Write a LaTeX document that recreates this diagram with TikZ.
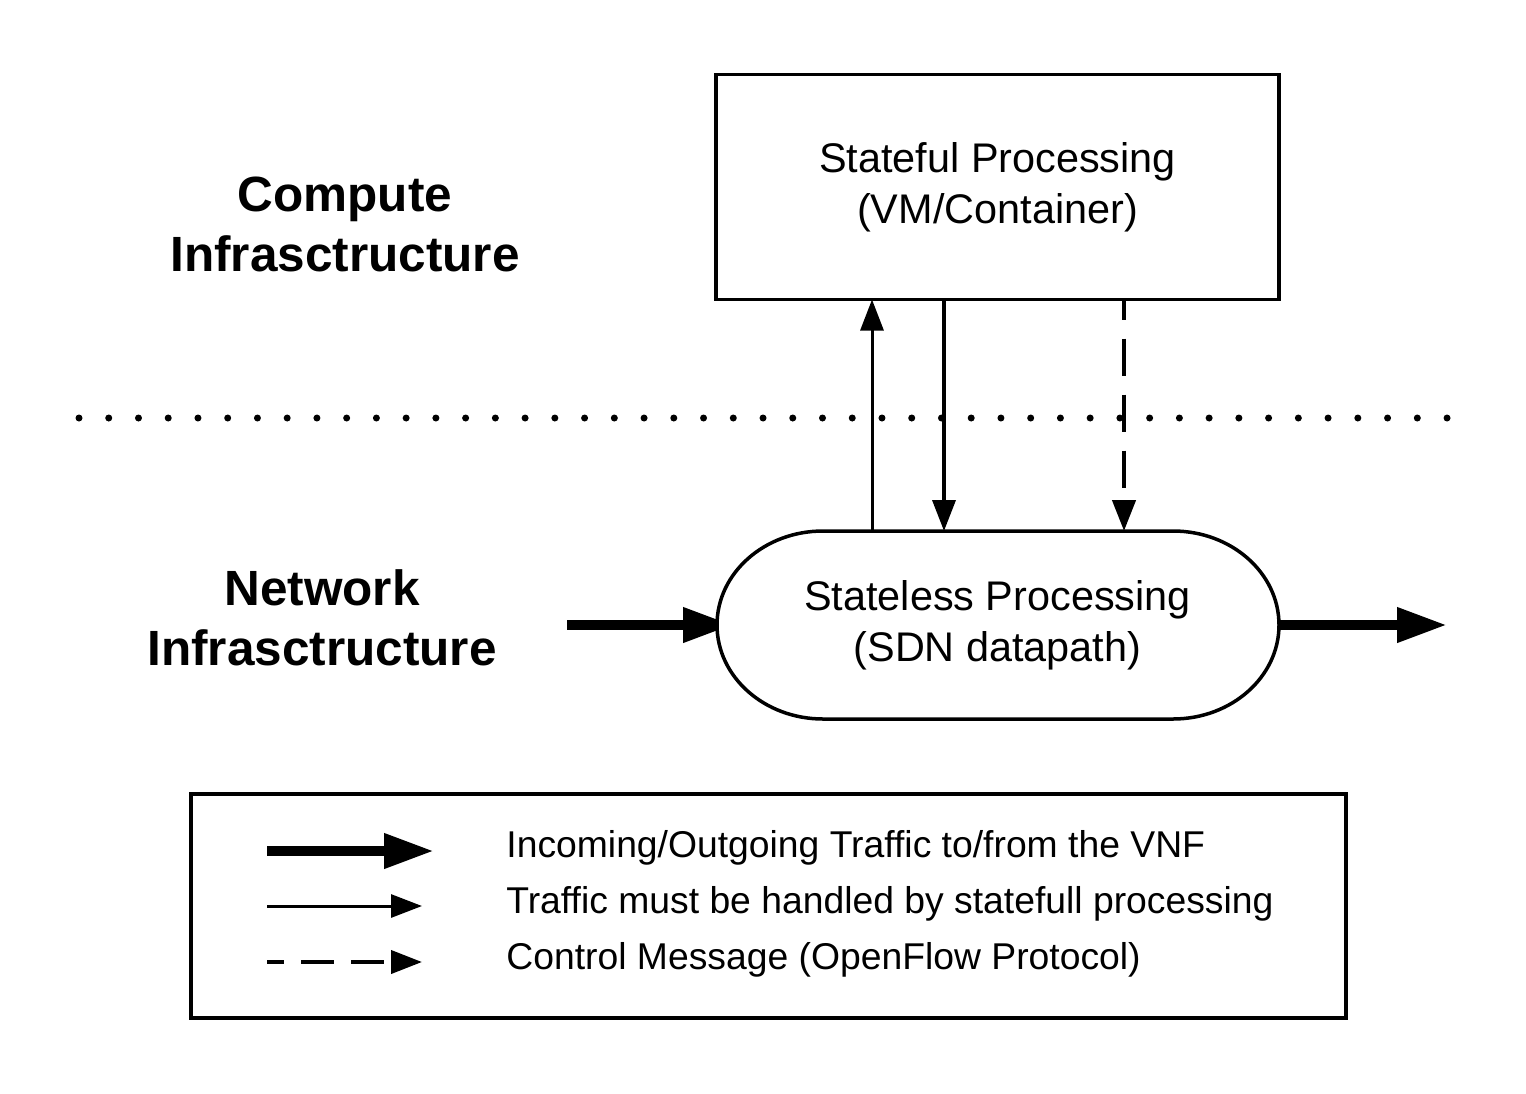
\documentclass[tikz,border=0pt]{standalone}
\usepackage{fontspec}
\setmainfont{Liberation Sans}
\usetikzlibrary{arrows.meta,backgrounds}
\begin{document}
\begin{tikzpicture}[x=0.5pt,y=-0.5pt,
  boxtext/.style={font=\fontsize{20.7pt}{25.5pt}\selectfont, align=center},
  layerlabel/.style={font=\fontsize{24.75pt}{30pt}\selectfont\bfseries, align=center},
  legendtext/.style={font=\fontsize{18.65pt}{22pt}\selectfont, anchor=base west, inner sep=0pt},
  thickarrow/.style={line width=5pt, -{Triangle[length=25pt,width=16.5pt]}},
  thinarrow/.style={line width=1.5pt, -{Triangle[length=15.5pt,width=11.5pt]}},
  ctrlarrow/.style={thinarrow, line width=2.2pt, dash pattern=on 18.5pt off 9.5pt, dash phase=8.5pt},
  legctrl/.style={thinarrow, line width=2pt, dash pattern=on 16.5pt off 8.5pt, dash phase=8pt},
  frame/.style={draw, line width=1.75pt, outer sep=0pt},
]
\useasboundingbox (0,0) rectangle (1526,1093);

% dotted separator
\foreach \i in {0,...,46}
  \fill ({79+\i*29.74},418) circle[radius=3.5];

% layer labels
\node[layerlabel] (compute) at (345,224) {Compute\\Infrasctructure};
\node[layerlabel] (network) at (322,618) {Network\\Infrasctructure};

% stateful box
\node[frame, boxtext, minimum width=281.5pt, minimum height=112.5pt] (stateful) at (997.5,187) {Stateful Processing\\(VM/Container)};

% stateless (terminator shape)
\draw[line width=1.75pt, fill=white] (823,531) -- (1173,531)
  arc[start angle=-90, end angle=90, x radius=106, y radius=94]
  -- (823,719)
  arc[start angle=90, end angle=270, x radius=106, y radius=94] -- cycle;
\node[boxtext, minimum width=281.5pt, minimum height=94pt, inner sep=0pt, outer sep=0pt] (stateless) at (997.5,625) {Stateless Processing\\(SDN datapath)};

% traffic in/out
\coordinate (in) at (567,625);
\coordinate (out) at (1447,625);
\begin{scope}[on background layer]
  \draw[thickarrow] (in) -- ([xshift=8.5pt]stateless.west);
\end{scope}
\draw[thickarrow] (stateless.east) -- (out);

% vertical connectors
\coordinate (xu) at (872,0);
\coordinate (xd) at (944,0);
\coordinate (xc) at (1124,0);
\draw[thinarrow] (stateless.north -| xu) -- (stateful.south -| xu);
\draw[thinarrow, line width=1.8pt] (stateful.south -| xd) -- (stateless.north -| xd);
\draw[ctrlarrow] (stateful.south -| xc) -- (stateless.north -| xc);

% legend
\node[frame, minimum width=577.5pt, minimum height=112pt] (legend) at (768.5,906) {};
\coordinate (la) at (267,851); \coordinate (lae) at (434,851);
\coordinate (lb) at (267,906); \coordinate (lbe) at (422,906);
\coordinate (lc) at (267,962); \coordinate (lce) at (422,962);
\draw[thickarrow] (la) -- (lae);
\draw[thinarrow] (lb) -- (lbe);
\draw[legctrl] (lc) -- (lce);
\node[legendtext] (lt1) at (506,857) {Incoming/Outgoing Traffic to/from the VNF};
\node[legendtext] (lt2) at (506,913) {Traffic must be handled by statefull processing};
\node[legendtext] (lt3) at (506,969) {Control Message (OpenFlow Protocol)};
\end{tikzpicture}
\end{document}
